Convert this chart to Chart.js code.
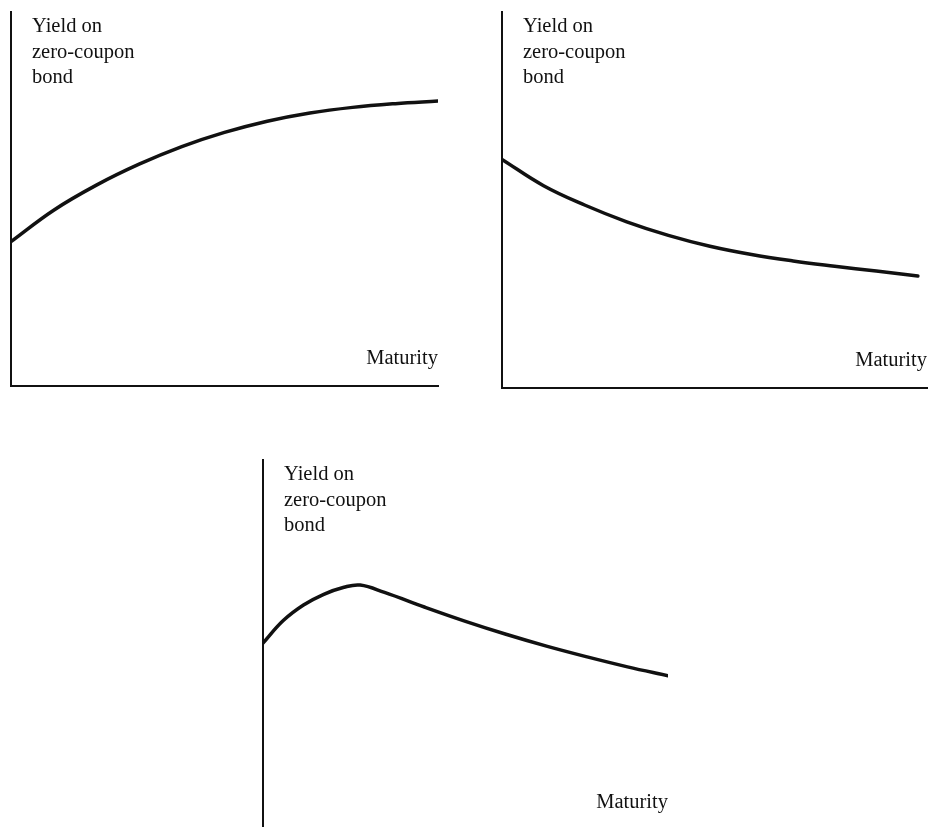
<!DOCTYPE html>
<html>
<head>
<meta charset="utf-8">
<title>Yield curves</title>
<script src="https://cdn.jsdelivr.net/npm/chart.js@4"></script>
<style>
  html, body { margin: 0; padding: 0; background: #fff; width: 928px; height: 827px; overflow: hidden; }
  .box { position: absolute; }
</style>
</head>
<body>
<div class="box" style="left:6px;top:7px;width:437px;height:384px"><canvas id="upChart"></canvas></div>
<div class="box" style="left:497px;top:7px;width:435px;height:386px"><canvas id="downChart"></canvas></div>
<div class="box" style="left:258px;top:455px;width:415px;height:380px"><canvas id="humpChart"></canvas></div>
<script>
// labels
const yLabelLines = ["Yield on", "zero-coupon", "bond"];
const xLabel = "Maturity";

// maturities (arbitrary units, read along the axis)
const maturity = [0, 1, 2, 3, 4, 5, 6, 7, 8, 9, 10];
const humpMaturity = [0, 0.5, 1, 1.5, 2, 2.4, 3, 4, 5, 6, 7, 8, 9, 10];

// yields
const upwardYield = [3.86, 4.70, 5.37, 5.93, 6.40, 6.78, 7.08, 7.30, 7.45, 7.55, 7.62];
const downwardYield = [6.08, 5.38, 4.86, 4.42, 4.06, 3.77, 3.55, 3.38, 3.24, 3.11, 2.98];
const humpedYield = [5.05, 5.66, 6.08, 6.37, 6.56, 6.62, 6.42, 6.02, 5.64, 5.29, 4.97, 4.68, 4.41, 4.17];

const ink = "#111";

// draws the axis labels inside the plot area
const axisText = {
  id: "axisText",
  afterDraw(chart) {
    const { ctx, chartArea } = chart;
    ctx.save();
    ctx.fillStyle = ink;
    ctx.font = '20.5px "Liberation Serif", "DejaVu Serif", serif';
    ctx.textBaseline = "alphabetic";
    ctx.textAlign = "left";
    yLabelLines.forEach((t, i) => {
      ctx.fillText(t, chartArea.left + 21, chartArea.top + 20 + i * 25.5);
    });
    ctx.textAlign = "right";
    ctx.fillText(xLabel, chartArea.right, chartArea.bottom - 22);
    ctx.restore();
  }
};

function makeChart(id, xs, ys, xMax) {
  const ctx = document.getElementById(id).getContext("2d");
  return new Chart(ctx, {
    type: "line",
    data: {
      labels: xs,
      datasets: [{
        data: xs.map((x, i) => ({ x: x, y: ys[i] })),
        borderColor: ink,
        borderWidth: 3.5,
        borderCapStyle: "round",
        pointRadius: 0,
        fill: false,
        tension: 0.4
      }]
    },
    options: {
      responsive: true,
      maintainAspectRatio: false,
      animation: false,
      events: [],
      layout: { padding: 5 },
      plugins: { legend: { display: false }, tooltip: { enabled: false } },
      scales: {
        x: {
          type: "linear",
          min: 0,
          max: xMax,
          grid: { display: false, drawTicks: false },
          ticks: { display: false },
          border: { display: true, color: ink, width: 2 }
        },
        y: {
          type: "linear",
          min: 0,
          max: 10,
          grid: { display: false, drawTicks: false },
          ticks: { display: false },
          border: { display: true, color: ink, width: 2 }
        }
      }
    },
    plugins: [axisText]
  });
}

makeChart("upChart", maturity, upwardYield, 10);
makeChart("downChart", maturity, downwardYield, 10.22);
makeChart("humpChart", humpMaturity, humpedYield, 10);
</script>
</body>
</html>
